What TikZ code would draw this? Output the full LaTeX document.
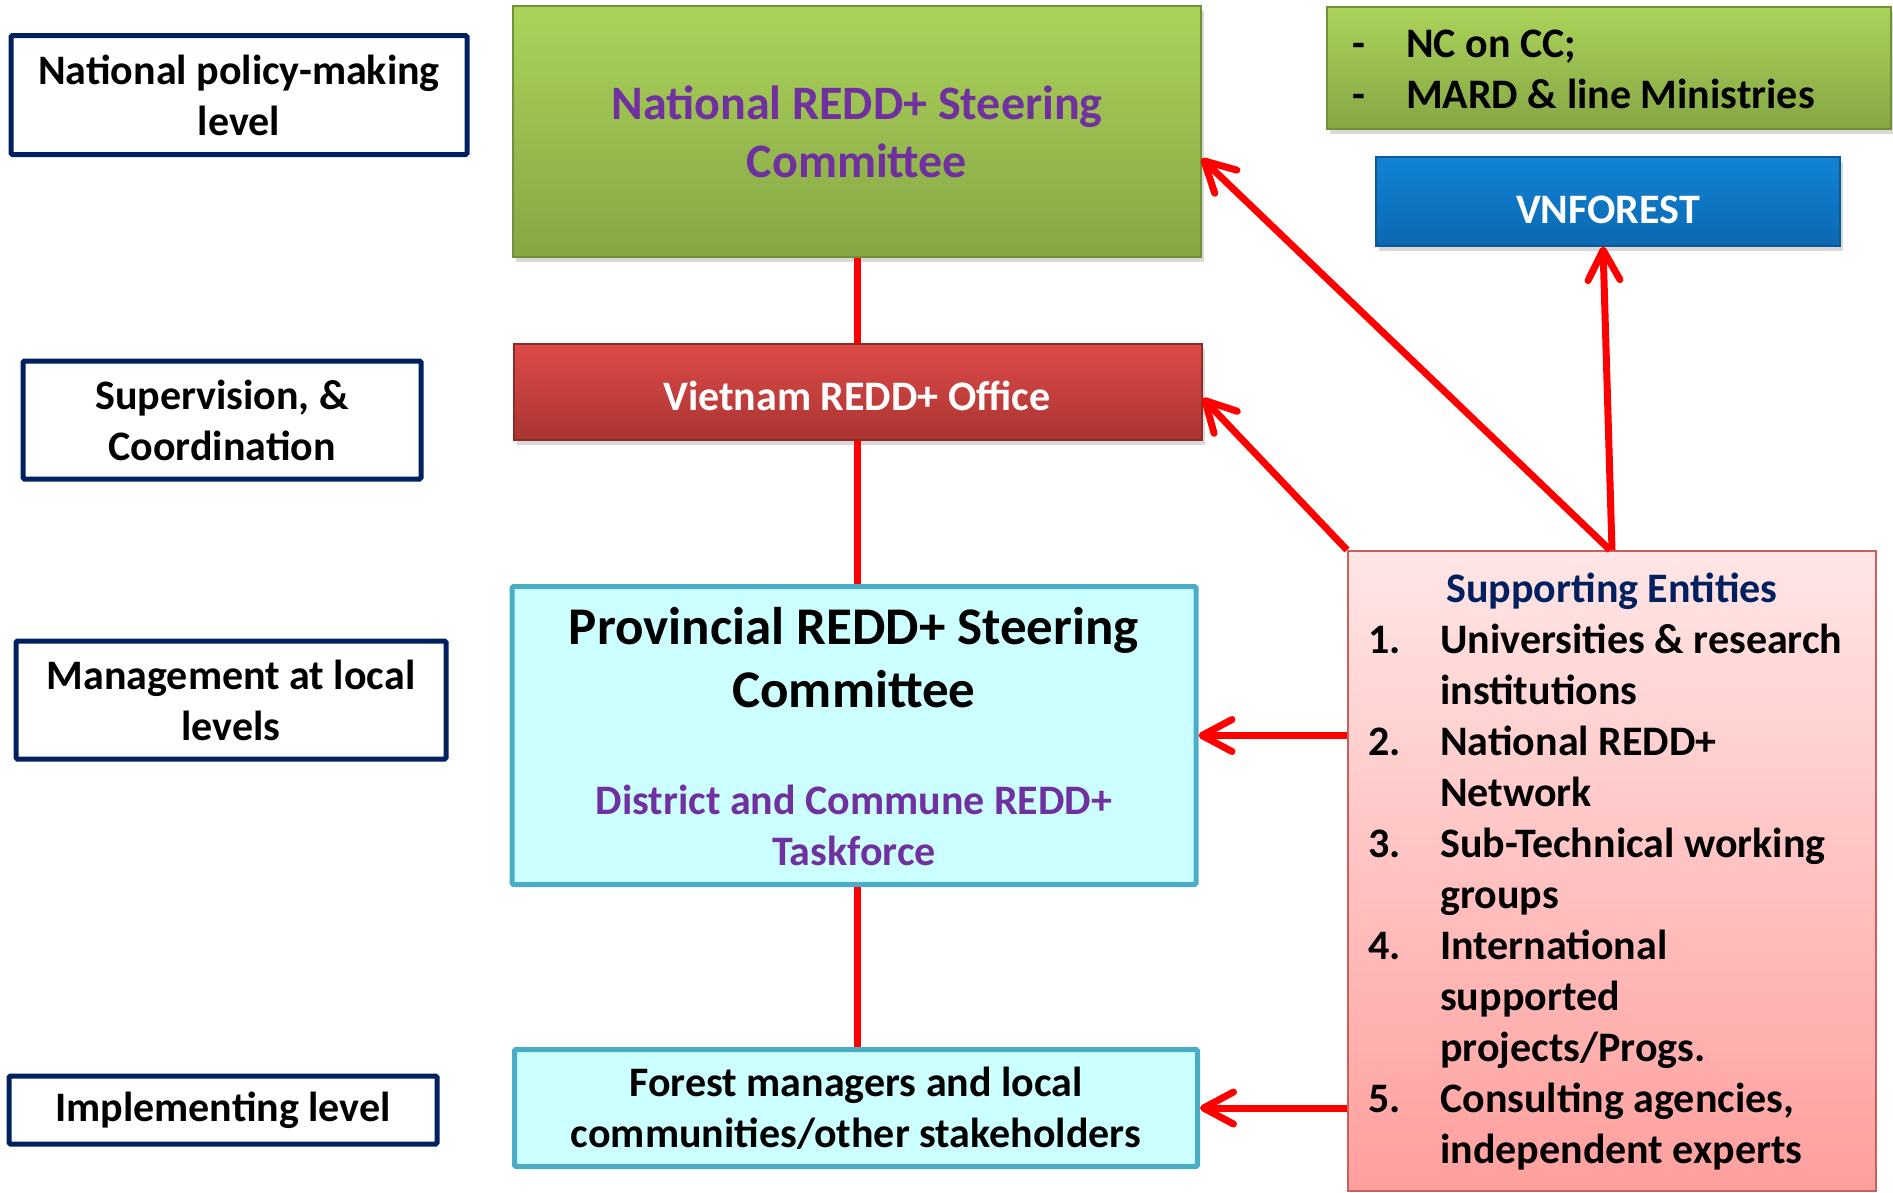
\documentclass[tikz,border=0pt]{standalone}
\usepackage{fontspec}
\setmainfont{Carlito}
\usetikzlibrary{arrows.meta,shadows,calc}
\definecolor{navy}{HTML}{002060}
\definecolor{purp}{HTML}{7030A0}
\definecolor{cyfill}{HTML}{CCFFFF}
\definecolor{cyline}{HTML}{4BACC6}
\definecolor{grtop}{HTML}{ABD35A}
\definecolor{grbot}{HTML}{86A645}
\definecolor{grline}{HTML}{71903A}
\definecolor{rdtop}{HTML}{DE4B49}
\definecolor{rdbot}{HTML}{A93431}
\definecolor{rdline}{HTML}{8E2B28}
\definecolor{bltop}{HTML}{1284D6}
\definecolor{blbot}{HTML}{0A68B0}
\definecolor{blline}{HTML}{0A5A98}
\definecolor{pktop}{HTML}{FFE6E6}
\definecolor{pkbot}{HTML}{FF9F9D}
\definecolor{pkline}{HTML}{C8605C}
\definecolor{arrred}{HTML}{FF0000}
\tikzset{
 txt/.style={font=\bfseries\fontsize{42}{51}\selectfont, align=center, inner sep=0pt},
 lvl/.style={txt, draw=navy, line width=5pt, rounded corners=1.5pt, fill=white},
 shad/.style={drop shadow={shadow xshift=3pt, shadow yshift=-5pt, opacity=0.3}},
 gbox/.style={shad, draw=grline, line width=1.2pt, top color=grtop, bottom color=grbot},
 rbox/.style={shad, draw=rdline, line width=1.2pt, top color=rdtop, bottom color=rdbot},
 bbox/.style={shad, draw=blline, line width=1.2pt, top color=bltop, bottom color=blbot},
 cbox/.style={draw=cyline, fill=cyfill, line width=5pt, rounded corners=1.5pt},
 pbox/.style={draw=pkline, line width=2pt, top color=pktop, bottom color=pkbot},
 link/.style={draw=arrred, line width=7pt},
 arr/.style={draw=arrred, line width=7pt, -{Straight Barb[length=30pt,width=32pt,round]}},
}
\begin{document}
\begin{tikzpicture}[x=1pt,y=-1pt]
\useasboundingbox (0,0) rectangle (1893,1192);
\fill[white] (0,0) rectangle (1893,1192);

% level labels
\node[lvl, minimum width=456pt, minimum height=119pt] (npm) at (239,95) {National policy-making\\level};
\node[lvl, minimum width=398pt, minimum height=118pt] (sv) at (222,420) {Supervision, \&\\Coordination};
\node[lvl, minimum width=430pt, minimum height=118pt] (mg) at (231,700) {Management at local\\levels};
\node[lvl, minimum width=428pt, minimum height=68pt] (im) at (223,1110) {Implementing level};

% central column
\node[gbox, txt, text=purp, font=\bfseries\fontsize{48}{58}\selectfont, minimum width=688pt, minimum height=251pt] (nrsc) at (857,131.5) {National REDD+ Steering\\Committee};
\node[rbox, minimum width=688pt, minimum height=96pt] (vro) at (858,392) {};
\node[txt, text=white] (vrot) at (857,396) {Vietnam REDD+ Office};
\node[cbox, minimum width=684pt, minimum height=298pt] (prov) at (854,735.5) {};
\node[txt, font=\bfseries\fontsize{53}{63}\selectfont] (provt) at (854,658) {Provincial REDD+ Steering\\Committee};
\node[txt, text=purp] (dist) at (854,825) {District and Commune REDD+\\Taskforce};
\node[cbox, txt, minimum width=683pt, minimum height=117pt] (forest) at (856,1108) {Forest managers and local\\communities/other stakeholders};

% right column
\node[gbox, minimum width=564pt, minimum height=122pt] (nc) at (1609,68) {};
\node[txt, align=left, anchor=west] (nct) at (1352,69) {\makebox[54pt][l]{-}NC on CC;\\\makebox[54pt][l]{-}MARD \& line Ministries};
\node[bbox, minimum width=464pt, minimum height=89pt] (vnf) at (1608,201.5) {};
\node[txt, text=white] (vnft) at (1608,210) {VNFOREST};
\node[pbox, minimum width=528pt, minimum height=640pt] (sup) at (1612,871) {};
\node[txt, text=navy] (suph) at (1612,591) {Supporting Entities};
\node[txt, align=left, anchor=north west] (supl) at (1368,624) {%
\makebox[72pt][l]{1.}Universities \& research\\
\hspace*{72pt}institutions\\
\makebox[72pt][l]{2.}National REDD+\\
\hspace*{72pt}Network\\
\makebox[72pt][l]{3.}Sub-Technical working\\
\hspace*{72pt}groups\\
\makebox[72pt][l]{4.}International\\
\hspace*{72pt}supported\\
\hspace*{72pt}projects/Progs.\\
\makebox[72pt][l]{5.}Consulting agencies,\\
\hspace*{72pt}independent experts};

% vertical links
\draw[link] (nrsc.south) -- (nrsc.south |- vro.north);
\draw[link] (nrsc.south |- vro.south) -- (nrsc.south |- prov.north);
\draw[link] (nrsc.south |- prov.south) -- (nrsc.south |- forest.north);

% arrows from supporting entities
\draw[arr] (sup.north) -- ([xshift=-5pt]vnf.south);
\draw[arr] ([xshift=-2pt]sup.north) -- ([yshift=-27pt]nrsc.east);
\draw[arr] (sup.north west) -- ([yshift=-6pt]vro.east);
\draw[arr] (sup.west |- prov.east) -- (prov.east);
\draw[arr] (sup.west |- forest.east) -- (forest.east);
\end{tikzpicture}
\end{document}
